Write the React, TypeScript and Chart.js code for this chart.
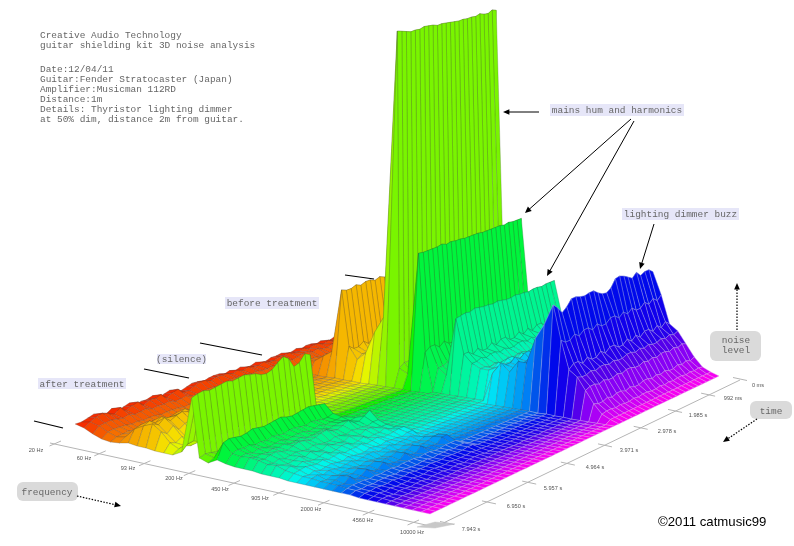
import React, { useEffect, useRef } from "react";
import { Chart, registerables } from "chart.js";

Chart.register(...registerables);

// ---- axis labels
const frequencyLabels = ["20 Hz", "60 Hz", "93 Hz", "200 Hz", "450 Hz", "905 Hz", "2000 Hz", "4560 Hz", "10000 Hz"];
const timeLabels = ["7.943 s", "6.950 s", "5.957 s", "4.964 s", "3.971 s", "2.978 s", "1.985 s", "992 ms", "0 ms"];

// ---- noise level spectra, one value per frequency bin (41 nodes)
const afterEdge = [10, 8, 4, 1, 0, 1, 3, 2, 2, 1, 1, 1, 6, 65, 4, 1, 6, 4, 3, 3, 3, 2, 2, 2, 1, 1, 1, 1, 1, 1, 1, 1, 0, 0, 0, 0, 0, 0, 0, 0, 0];
const afterA = [10, 12, 10, 6, 3, 5, 15, 20, 24, 18, 9, 5, 12, 65, 6, 4, 22, 12, 11, 12, 12, 9, 10, 7, 6, 5, 5, 4, 4, 4, 3, 3, 2, 1, 1, 0.5, 0, 0, 0, 0, 0];
const afterB = [12, 15, 11, 7, 4, 7, 17, 23, 21, 14, 7, 6, 13, 65, 5, 5, 22, 14, 12, 10, 12, 8, 8, 9, 7, 4, 6, 3, 5, 3, 4, 2, 2, 2, 1, 0, 0, 0, 0, 0, 0];
const afterC = [14, 17, 12, 7, 5, 6, 14, 19, 26, 20, 11, 4, 10, 65, 4, 6, 22, 13, 10, 11, 12, 10, 7, 6, 8, 6, 4, 5, 7, 8, 4, 3, 3, 1, 0, 0.5, 0, 0, 0, 0, 0];
const silenceA = [13, 15, 13, 8, 4, 3, 2.5, 2, 2, 2, 2, 2, 2, 2, 2, 2, 2, 2, 1.5, 1.5, 1.5, 1.5, 1.5, 1.5, 1.5, 1, 1, 1, 1, 1, 1, 1, 1, 0.5, 0.5, 0.5, 0, 0, 0, 0, 0];
const silenceB = [15, 17, 14, 7, 3, 2, 2, 2.5, 2, 2, 1.5, 2, 2, 2, 2, 2, 1.5, 2, 2, 1.5, 1.5, 1.5, 1, 1.5, 1, 1, 1, 1, 1, 1, 1, 0.5, 1, 0.5, 0.5, 0, 0, 0, 0, 0, 0];
const beforeA = [14, 16, 17, 13, 12, 18, 24, 87, 30, 26, 27, 48, 72, 350, 24, 14, 140, 44, 24, 18, 76, 42, 34, 30, 30, 34, 38, 36, 42, 50, 70, 85, 100, 70, 50, 38, 30, 14, 8, 3, 0];
const beforeB = [16, 18, 15, 12, 14, 20, 26, 89, 34, 22, 30, 52, 68, 350, 20, 16, 140, 40, 26, 20, 76, 38, 36, 28, 34, 30, 42, 34, 46, 46, 72, 87, 100, 74, 46, 40, 28, 16, 7, 3, 0];

// ---- which spectrum each time slice uses
const afterPick = [afterEdge, afterA, afterB, afterC, afterB, afterA, afterC, afterA, afterB, afterC, afterA, afterB, afterB, afterC, afterA, afterB, afterC, afterA, afterA, afterB, afterC, afterC, afterB, afterC];
const silencePick = [silenceA, silenceB, silenceA, silenceA, silenceB, silenceB, silenceA, silenceB, silenceA, silenceB, silenceA];
const beforePick = [beforeA, beforeB, beforeB, beforeA, beforeA, beforeB, beforeA, beforeB, beforeB, beforeA, beforeB, beforeA, beforeA, beforeB, beforeB, beforeA, beforeB, beforeA, beforeB, beforeA, beforeA, beforeB, beforeA, beforeB, beforeA, beforeB];

// ---- ridge tops per time slice
const afterLimeTop = [62, 64, 65, 63, 64, 65, 66, 64, 65, 66, 64, 63, 60, 59, 61, 66, 70, 66, 56, 58, 65, 62, 60, 40];
const afterGreenTop = [6, 21, 23, 22, 21, 22, 24, 23, 22, 23, 24, 25, 23, 22, 23, 24, 25, 24, 23, 22, 24, 25, 24, 22];
const afterSpringTop = [3, 11, 10, 12, 13, 11, 10, 12, 14, 13, 11, 12, 14, 15, 12, 11, 13, 16, 12, 11, 14, 18, 13, 8];
const beforeTallTop = [345, 356, 356, 354, 352, 350, 350, 349, 350, 349, 348, 346, 346, 345, 344, 343, 342, 342, 341, 341, 340, 341, 339, 338, 340, 338];
const beforeSecondTop = [138, 138, 138, 137, 137, 137, 137, 138, 136, 137, 136, 136, 135, 135, 135, 135, 134, 134, 134, 134, 134, 133, 134, 133, 133, 133];
const beforeThirdTop = [78, 77, 78, 76, 77, 78, 77, 79, 78, 77, 77, 76, 77, 76, 75, 75, 76, 75, 75, 74, 75, 75, 74, 75, 75, 75];
const beforeBlueTop = [108, 106, 108, 103, 96, 100, 106, 106, 104, 103, 104, 104, 100, 97, 96, 99, 106, 107, 105, 102, 99, 103, 98, 100, 100, 96];
// last "after treatment" slice and first "before treatment" slice, per frequency node
const afterEnd = [24, 24, 24, 24, 23, 23, 23, 23, 22, 22, 22, 22, 22, 22, 21, 21, 20, 20, 21, 21, 22, 22, 22, 22, 22, 22, 21, 21, 22, 22, 22, 22, 22, 22, 22, 22, 22, 22, 22, 22, 22];
const beforeStart = [37, 37, 37, 37, 37, 37, 37, 37, 37, 37, 37, 37, 37, 37, 37, 37, 37, 37, 38, 38, 38, 38, 38, 38, 38, 37, 37, 37, 37, 37, 37, 37, 37, 37, 37, 37, 37, 37, 37, 37, 37];

// ---- colour by frequency
const hueAt = [8, 18, 28, 36, 44, 50, 68, 86, 96, 134, 142, 154, 160, 170, 185, 195, 205, 222, 240, 250, 272, 288, 305];

const BINS = 40;
const ROWS = 60;
const A = [75, 434], B = [430, 514], C = [719, 376], D = [390, 335];

function depth(tau: number) {
  return (1.17 * tau) / (1 + 0.17 * tau);
}
function project(i: number, r: number, h: number) {
  const u = i / BINS;
  const tau = r / ROWS;
  const s = depth(tau);
  const lx = A[0] + (D[0] - A[0]) * s, ly = A[1] + (D[1] - A[1]) * s;
  const rx = B[0] + (C[0] - B[0]) * s, ry = B[1] + (C[1] - B[1]) * s;
  const lean = tau < 0.6 ? 0.02 : 0.02 - (0.022 * (tau - 0.6)) / 0.4;
  return { x: lx + (rx - lx) * u + h * lean, y: ly + (ry - ly) * u - h };
}
function level(i: number, r: number) {
  if (r < afterEnd[i]) {
    if (i === 13) return afterLimeTop[r];
    if (i === 16) return afterGreenTop[r];
    if (i === 20) return afterSpringTop[r];
    return afterPick[r][i];
  }
  if (r < beforeStart[i]) return silencePick[(r - 20) % silencePick.length][i];
  const k = r - 35;
  if (i === 13) return beforeTallTop[k];
  if (i === 16) return beforeSecondTop[k];
  if (i === 20) return beforeThirdTop[k];
  if (i === 32) return beforeBlueTop[k];
  return beforePick[k][i];
}
function hueOf(u: number) {
  const p = u * (hueAt.length - 1);
  const a = Math.floor(p);
  const b = Math.min(a + 1, hueAt.length - 1);
  return hueAt[a] + (hueAt[b] - hueAt[a]) * (p - a);
}

function buildDatasets() {
  const sets: any[] = [];
  const line = (pts: { x: number; y: number }[]) => ({
    data: pts, showLine: true, pointRadius: 0, borderColor: "#b5b5b5", borderWidth: 1, fill: false,
  });
  const ax0 = [50, 443], ax1 = [435, 527], ax2 = [740, 380];
  sets.push(line([{ x: ax0[0], y: ax0[1] }, { x: ax1[0], y: ax1[1] }]));
  sets.push(line([{ x: ax1[0], y: ax1[1] }, { x: ax2[0], y: ax2[1] }]));
  frequencyLabels.forEach((_, n) => {
    const f = n / (frequencyLabels.length - 1);
    const x = 55 + 358 * f, y = 444 + 79 * f;
    sets.push(line([{ x: x - 5.5, y: y + 2 }, { x: x + 6, y: y - 3 }]));
  });
  timeLabels.forEach((_, n) => {
    const f = depth(n / (timeLabels.length - 1));
    const x = 447 + 293 * f, y = 523 - 144 * f;
    sets.push(line([{ x: x - 7, y: y - 1.5 }, { x: x + 7, y: y + 1.5 }]));
  });
  const tri = (pts: number[][]) => ({
    data: [...pts, pts[0]].map(([x, y]) => ({ x, y })), showLine: true, pointRadius: 0,
    borderColor: "#c8c8c8", backgroundColor: "#c8c8c8", borderWidth: 0.5, fill: "shape",
  });
  sets.push(tri([[417, 527], [435, 522], [435, 528]]));
  sets.push(tri([[435, 522], [455, 524], [435, 528]]));
  for (let i = 0; i < BINS; i++) {
    const hue = hueOf((i + 0.5) / BINS);
    const fillC = `hsl(${hue},100%,${hue > 215 && hue < 262 ? 46 : 48}%)`;
    const edge = hue > 210 ? `hsla(${hue},55%,74%,0.8)` : `hsla(${hue},40%,30%,0.6)`;
    for (let r = ROWS - 1; r >= 0; r--) {
      const pts = [
        project(i, r, level(i, r)),
        project(i + 1, r, level(i + 1, r)),
        project(i + 1, r + 1, level(i + 1, r + 1)),
        project(i, r + 1, level(i, r + 1)),
      ];
      pts.push(pts[0]);
      sets.push({
        data: pts, showLine: true, pointRadius: 0, borderColor: edge, backgroundColor: fillC,
        borderWidth: 0.5, fill: "shape",
      });
    }
  }
  return sets.reverse();
}

const MONO = '"Liberation Mono", monospace';
const SANS = '"Liberation Sans", sans-serif';
const TEXT = "#666";
const header: [string, number][] = [
  ["Creative Audio Technology", 35.5], ["guitar shielding kit 3D noise analysis", 45.5],
  ["Date:12/04/11", 69.5], ["Guitar:Fender Stratocaster (Japan)", 79.5], ["Amplifier:Musicman 112RD", 89.5],
  ["Distance:1m", 99.5], ["Details: Thyristor lighting dimmer", 109.5], ["at 50% dim, distance 2m from guitar.", 119.5],
];
const tags: [string, number, number, number, number][] = [
  ["after treatment", 38, 378, 88, 11], ["(silence)", 157, 354, 49, 10], ["before treatment", 225, 297, 94, 12],
  ["mains hum and harmonics", 550, 104, 134, 12], ["lighting dimmer buzz", 622, 208, 117, 12],
];

const notes = {
  id: "notes",
  afterDraw(chart: any) {
    const g = chart.ctx as CanvasRenderingContext2D;
    g.save();
    g.textBaseline = "middle";
    g.textAlign = "left";
    g.font = `9.45px ${MONO}`;
    g.fillStyle = TEXT;
    header.forEach(([t, y]) => g.fillText(t, 40, y));
    tags.forEach(([t, x, y, w, h]) => {
      g.fillStyle = "#e6e6f8";
      g.fillRect(x, y, w, h);
      g.fillStyle = TEXT;
      g.textAlign = "center";
      g.fillText(t, x + w / 2, y + h / 2 + 0.5);
    });
    const box = (x: number, y: number, w: number, h: number) => {
      g.fillStyle = "#dadada";
      g.beginPath();
      g.roundRect(x, y, w, h, 6);
      g.fill();
    };
    box(710, 331, 51, 30);
    box(750, 401, 42, 18);
    box(17, 482, 61, 19);
    g.fillStyle = TEXT;
    g.textAlign = "center";
    g.fillText("noise", 736, 340);
    g.fillText("level", 736, 350);
    g.fillText("time", 771, 411);
    g.fillText("frequency", 47, 492);
    // black marker lines
    g.strokeStyle = "#000";
    g.lineWidth = 1.2;
    [[34, 421, 63, 428], [144, 369, 189, 378], [200, 343, 262, 355], [345, 275, 374, 279]].forEach(([a, b, c, d]) => {
      g.beginPath(); g.moveTo(a, b); g.lineTo(c, d); g.stroke();
    });
    const arrow = (x0: number, y0: number, x1: number, y1: number, dotted = false) => {
      g.save();
      g.strokeStyle = "#000"; g.fillStyle = "#000"; g.lineWidth = dotted ? 1.2 : 1;
      if (dotted) g.setLineDash([1.5, 1.5]);
      const ang = Math.atan2(y1 - y0, x1 - x0);
      g.beginPath(); g.moveTo(x0, y0); g.lineTo(x1 - 4 * Math.cos(ang), y1 - 4 * Math.sin(ang)); g.stroke();
      g.setLineDash([]);
      g.beginPath(); g.moveTo(x1, y1);
      g.lineTo(x1 - 7 * Math.cos(ang - 0.42), y1 - 7 * Math.sin(ang - 0.42));
      g.lineTo(x1 - 7 * Math.cos(ang + 0.42), y1 - 7 * Math.sin(ang + 0.42));
      g.closePath(); g.fill();
      g.restore();
    };
    arrow(539, 112, 503, 112);
    arrow(631, 119, 525, 213);
    arrow(634, 121, 547, 276);
    arrow(654, 224, 640, 269);
    arrow(737, 330, 737, 283, true);
    arrow(757, 419, 723, 442, true);
    arrow(77, 496, 121, 506, true);
    // axis tick labels
    g.font = `5.6px ${SANS}`;
    g.fillStyle = "#555";
    const fx = [36, 84, 128, 174, 220, 260, 311, 363, 412];
    const fy = [450, 458, 468, 478, 489, 498, 509, 520, 532];
    frequencyLabels.forEach((t, n) => g.fillText(t, fx[n], fy[n]));
    const tx = [471, 516, 553, 595, 629, 667, 698, 733, 758];
    const ty = [529, 506, 488, 467, 450, 431, 415, 398, 385];
    timeLabels.forEach((t, n) => g.fillText(t, tx[n], ty[n]));
    g.fillStyle = "#000";
    g.textAlign = "left";
    g.font = `13.2px ${SANS}`;
    g.fillText("©2011 catmusic99", 658, 522.5);
    g.restore();
  },
};

export default function App() {
  const ref = useRef<HTMLCanvasElement>(null);
  useEffect(() => {
    const chart = new Chart(ref.current as HTMLCanvasElement, {
      type: "scatter",
      data: { datasets: buildDatasets() },
      options: {
        animation: false,
        responsive: false,
        devicePixelRatio: 1,
        layout: { padding: 0 },
        events: [],
        clip: false as any,
        plugins: { legend: { display: false }, tooltip: { enabled: false } },
        scales: {
          x: { type: "linear", min: 0, max: 794, display: false },
          y: { type: "linear", min: 0, max: 546, reverse: true, display: false },
        },
      },
      plugins: [notes],
    });
    return () => chart.destroy();
  }, []);
  return (
    <canvas
      ref={ref}
      width={794}
      height={546}
      style={{ position: "fixed", left: 0, top: 0, width: 794, height: 546, background: "#fff" }}
    />
  );
}
